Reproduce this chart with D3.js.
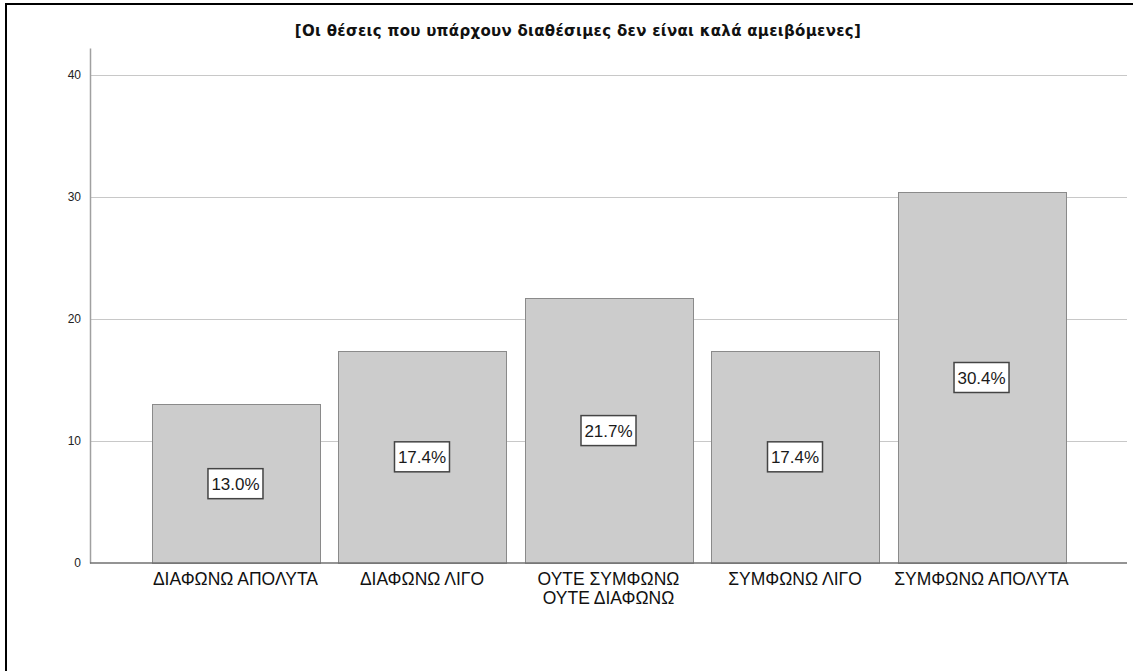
<!DOCTYPE html>
<html>
<head>
<meta charset="utf-8">
<script src="https://cdn.jsdelivr.net/npm/d3@7"></script>
<style>
  body { margin: 0; background: #fff; }
</style>
</head>
<body>
<div id="chart"></div>
<script>
// data
var title = '[Οι θέσεις που υπάρχουν διαθέσιμες δεν είναι καλά αμειβόμενες]'
var categories = [
  ['ΔΙΑΦΩΝΩ ΑΠΟΛΥΤΑ'],
  ['ΔΙΑΦΩΝΩ ΛΙΓΟ'],
  ['ΟΥΤΕ ΣΥΜΦΩΝΩ', 'ΟΥΤΕ ΔΙΑΦΩΝΩ'],
  ['ΣΥΜΦΩΝΩ ΛΙΓΟ'],
  ['ΣΥΜΦΩΝΩ ΑΠΟΛΥΤΑ']
]
var percents = [13.0, 17.4, 21.7, 17.4, 30.4]
var yTicks = [0, 10, 20, 30, 40]

var width = 1133
var height = 671
var margin = { top: 48, bottom: 108, left: 90, right: 6 }

var svg = d3
  .select('#chart')
  .append('svg')
  .attr('width', width)
  .attr('height', height)

// frame
svg.append('line')
  .attr('x1', 5).attr('x2', width).attr('y1', 4).attr('y2', 4)
  .attr('stroke', '#000').attr('stroke-width', 2)
svg.append('line')
  .attr('x1', 6).attr('x2', 6).attr('y1', 3).attr('y2', height)
  .attr('stroke', '#000').attr('stroke-width', 2)

var x = d3
  .scaleBand()
  .domain(d3.range(categories.length))
  .range([margin.left, width - margin.right])
  .paddingInner(0.1)
  .paddingOuter(0.33)

var y = d3
  .scaleLinear()
  .domain([0, 42.2])
  .range([height - margin.bottom, margin.top])

// grid lines
svg.append('g')
  .selectAll('line')
  .data(yTicks.filter(d => d > 0))
  .enter()
  .append('line')
  .attr('x1', margin.left)
  .attr('x2', width - margin.right)
  .attr('y1', d => Math.round(y(d)) + 0.5)
  .attr('y2', d => Math.round(y(d)) + 0.5)
  .attr('stroke', '#c8c8c8')
  .attr('stroke-width', 1)

// bars
svg.append('g')
  .selectAll('rect')
  .data(percents)
  .enter()
  .append('rect')
  .attr('x', (d, i) => Math.round(x(i)) + 0.5)
  .attr('y', d => Math.round(y(d)) + 0.5)
  .attr('width', Math.round(x.bandwidth()))
  .attr('height', d => Math.round(y(0)) - Math.round(y(d)))
  .attr('fill', '#cccccc')
  .attr('stroke', '#8a8a8a')
  .attr('stroke-width', 1)

// y axis
var yAxis = svg.append('g')
  .attr('transform', 'translate(' + margin.left + ',0)')
  .call(d3.axisLeft(y).tickValues(yTicks).tickSize(0).tickPadding(9))
yAxis.select('.domain').attr('stroke', '#a0a0a0').attr('stroke-width', 1.5)
yAxis.selectAll('text')
  .attr('font-family', 'Liberation Sans, Arial, sans-serif')
  .attr('font-size', '12px')
  .attr('fill', '#222')

// x axis line
svg.append('line')
  .attr('x1', margin.left)
  .attr('x2', width - margin.right)
  .attr('y1', y(0))
  .attr('y2', y(0))
  .attr('stroke', '#707070')
  .attr('stroke-width', 1.5)

// category labels
var catLabels = svg.append('g')
  .selectAll('text')
  .data(categories)
  .enter()
  .append('text')
  .attr('text-anchor', 'middle')
  .attr('font-family', 'Liberation Sans, Arial, sans-serif')
  .attr('font-size', '17.5px')
  .attr('fill', '#111')
catLabels.each(function (lines, i) {
  var t = d3.select(this)
  lines.forEach((line, j) => {
    t.append('tspan')
      .attr('x', x(i) + x.bandwidth() / 2)
      .attr('y', y(0) + 22 + j * 19)
      .text(line)
  })
})

// value labels
var valLabels = svg.append('g')
  .selectAll('g')
  .data(percents)
  .enter()
  .append('g')
  .attr('transform', (d, i) =>
    'translate(' + (x(i) + x.bandwidth() / 2) + ',' + (y(d / 2)) + ')')
valLabels.append('rect')
  .attr('x', -27.5)
  .attr('y', -15)
  .attr('width', 55)
  .attr('height', 30)
  .attr('fill', '#fff')
  .attr('stroke', '#444')
  .attr('stroke-width', 1.5)
valLabels.append('text')
  .attr('text-anchor', 'middle')
  .attr('dy', '0.36em')
  .attr('font-family', 'Liberation Sans, Arial, sans-serif')
  .attr('font-size', '17px')
  .attr('fill', '#1a1a1a')
  .text(d => d.toFixed(1) + '%')

// title
svg.append('text')
  .attr('x', 578)
  .attr('y', 36)
  .attr('text-anchor', 'middle')
  .attr('font-family', 'DejaVu Sans, sans-serif')
  .attr('font-weight', 'bold')
  .attr('font-size', '15px')
  .attr('letter-spacing', '0.3px')
  .attr('fill', '#111')
  .text(title)
</script>
</body>
</html>
